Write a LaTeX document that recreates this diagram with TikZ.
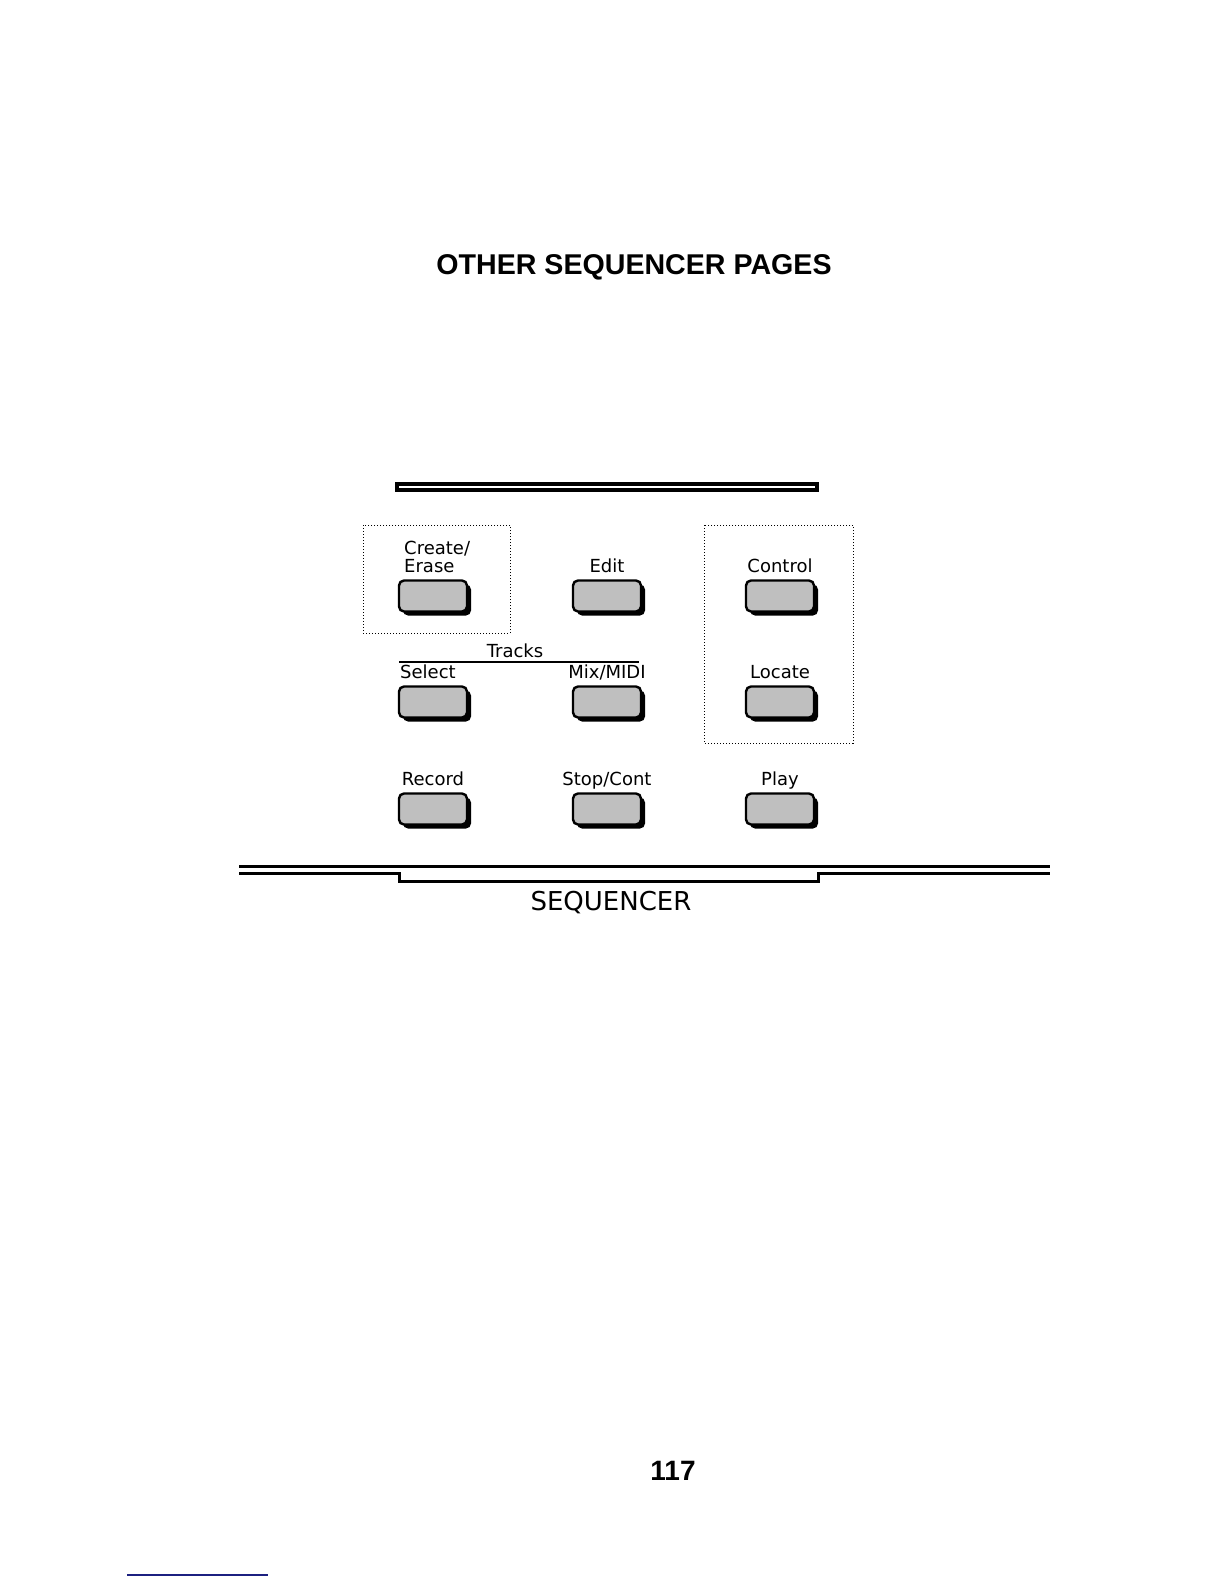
\documentclass[tikz,border=0pt]{standalone}
\usepackage{fontspec}
\setmainfont{Liberation Sans}
\newfontfamily\panelfont{DejaVu Sans}
\usetikzlibrary{positioning,shadows}
\definecolor{navyrule}{RGB}{28,32,128}
\tikzset{
  btn/.style={draw,line width=1.2pt,rounded corners=2.5pt,fill=gray!50,minimum width=34pt,minimum height=15.5pt,inner sep=0pt,
    drop shadow={shadow xshift=2pt,shadow yshift=-2pt,fill=black,opacity=1}},
  lbl/.style={font=\panelfont\fontsize{9}{9}\selectfont,inner sep=0pt,text depth=0pt},
  grp/.style={draw,densely dotted,line width=0.5pt}
}
\begin{document}
\begin{tikzpicture}[x=0.5pt,y=-0.5pt]
\useasboundingbox (0,0) rectangle (1224,1584);
\node[font=\bfseries\fontsize{14.3}{16}\selectfont] (title) at (634,267) {OTHER SEQUENCER PAGES};
\draw[line width=2pt] (397,484) rectangle (817,490);
\draw[grp] (363,525) rectangle (510,633);
\draw[grp] (704,525) rectangle (853,743);
\foreach \nm/\cx/\cy in {create/433/596,edit/607/596,control/780/596,select/433/702,mix/607/702,locate/780/702,record/433/809,stop/607/809,play/780/809}
  \node[btn] (\nm) at (\cx,\cy) {};
\node[lbl,align=left,above right=3pt and 3pt of create.north west] (createlbl) {Create/\\Erase};
\node[lbl,above=3pt of edit] (editlbl) {Edit};
\node[lbl,above=3pt of control] (controllbl) {Control};
\node[lbl,above right=3pt and 1pt of select.north west] (selectlbl) {Select};
\node[lbl,above=3pt of mix] (mixlbl) {Mix/MIDI};
\node[lbl,above=3pt of locate] (locatelbl) {Locate};
\node[lbl,above=3pt of record] (recordlbl) {Record};
\node[lbl,above=3pt of stop] (stoplbl) {Stop/Cont};
\node[lbl,above=3pt of play] (playlbl) {Play};
\node[lbl] (tracks) at (515,651) {Tracks};
\draw[line width=0.8pt] (399,662) -- (639,662);
\draw[line width=1.5pt] (239,866) -- (1050,866);
\draw[line width=1.5pt] (239,873) -- (399,873) -- (399,881) -- (818,881) -- (818,873) -- (1050,873);
\node[font=\panelfont\fontsize{13}{13}\selectfont] (seq) at (611,903) {SEQUENCER};
\node[font=\bfseries\fontsize{14}{16}\selectfont] (page) at (673,1471) {117};
\draw[navyrule,line width=0.7pt] (127,1575) -- (268,1575);
\end{tikzpicture}
\end{document}
